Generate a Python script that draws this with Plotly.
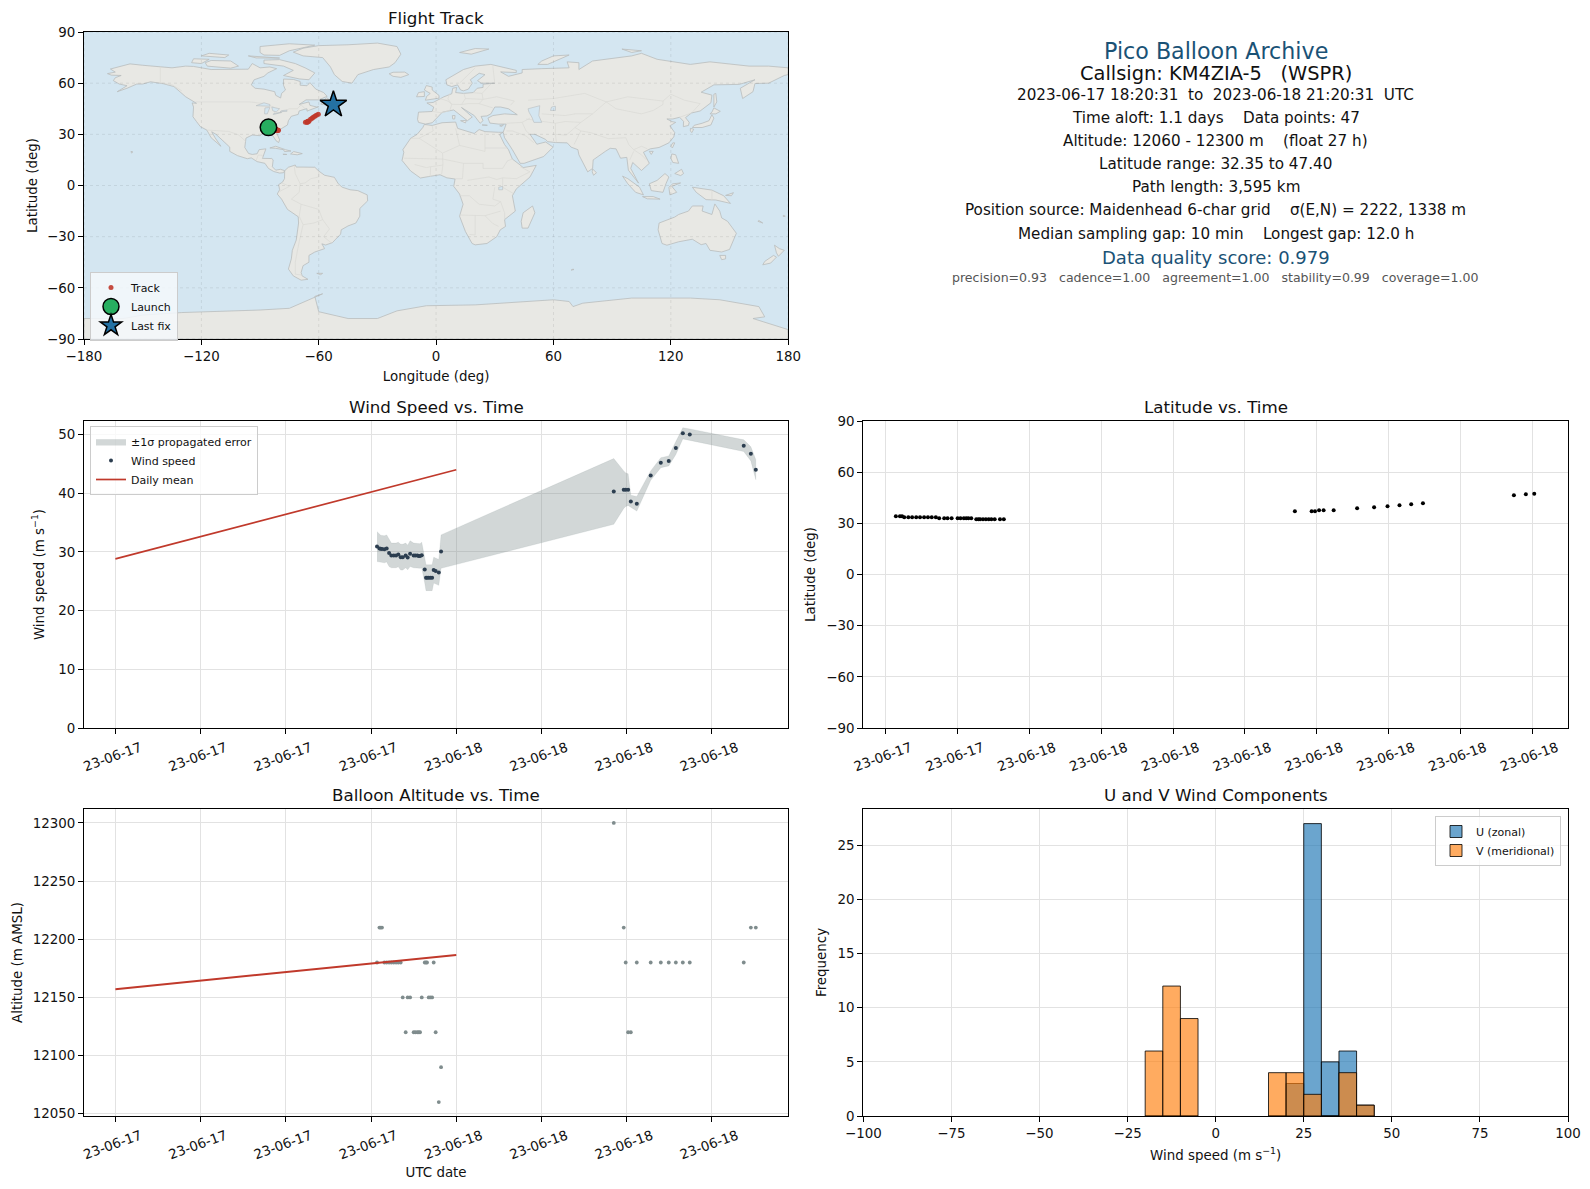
import pandas as pd
import plotly.graph_objects as go

# ---------- observations (hours after 2023-06-17 00:00 UTC) ----------
time_hours = [18.42,18.59,18.68,18.77,18.94,19.10,19.27,19.43,19.60,19.76,19.92,20.09,20.23,20.44,20.58,20.75,
              21.00,21.12,21.26,21.36,21.45,21.57,21.78,21.87,21.94,22.06,22.18,22.30,22.41,22.55,22.77,22.93,
              35.09,35.79,35.93,36.10,36.29,36.71,37.69,38.40,38.96,39.46,39.95,40.44,44.24,44.74,45.09]
wind_speed = [30.9,30.6,30.55,30.5,30.45,30.6,29.8,29.4,29.4,29.4,29.55,29.1,29.1,29.4,29.05,29.7,
              29.4,29.4,29.4,29.3,29.3,29.45,27.0,25.6,25.6,25.6,25.6,25.6,26.9,26.75,26.5,30.05,
              40.3,40.6,40.6,40.6,38.6,38.2,43.0,45.2,45.5,47.7,50.2,50.0,48.1,46.7,44.0]
wind_err = [2.55,2.4,2.3,2.3,2.3,2.3,2.3,2.1,2.1,2.1,2.1,2.2,2.2,2.1,2.1,2.2,
            2.1,2.1,2.1,2.1,2.1,2.2,2.3,2.2,2.2,2.2,2.2,2.2,2.2,2.2,2.2,2.85,
            5.6,3.2,2.85,2.7,1.05,1.25,0.8,0.85,0.85,1.1,0.95,0.95,1.0,1.2,1.7]
altitude = [12180,12210,12210,12210,12180,12180,12180,12180,12180,12180,12180,12180,12150,12120,12150,12150,
            12120,12120,12120,12120,12120,12150,12180,12180,12180,12150,12150,12150,12180,12120,12060,12090,
            12300,12210,12180,12120,12120,12180,12180,12180,12180,12180,12180,12180,12180,12210,12210]
latitude = [34.1,34.1,34.1,33.6,33.6,33.6,33.6,33.6,33.6,33.6,33.6,33.6,33.0,33.0,33.0,33.0,
            33.0,33.0,33.0,33.0,33.0,33.0,32.4,32.4,32.4,32.4,32.4,32.4,32.4,32.4,32.4,32.35,
            37.1,37.1,37.1,37.6,37.6,37.6,38.8,39.4,40.0,40.6,41.2,41.8,46.5,47.1,47.4]
longitude = [-85.7,-85.5,-85.3,-85.1,-84.9,-84.7,-84.5,-84.3,-84.1,-83.9,-83.7,-83.5,-83.3,-83.1,-82.9,-82.7,
             -82.5,-82.3,-82.2,-82.1,-82.0,-81.9,-81.7,-81.6,-81.5,-81.4,-81.3,-81.2,-81.1,-81.0,-80.8,-80.6,
             -66.8,-66.0,-65.8,-65.6,-65.4,-65.0,-64.2,-63.4,-62.8,-62.0,-61.2,-60.2,-53.6,-53.0,-52.5]
daily_hours = [0, 24]
daily_wind = [28.8, 44.0]
daily_alt = [12157, 12186.5]

# ---------- histogram ----------
bin_centers = [-17.5,-12.5,-7.5,17.5,22.5,27.5,32.5,37.5,42.5]
u_counts = [0,0,0,0,3,27,5,6,1]
v_counts = [6,12,9,4,4,2,0,4,1]
bin_width = 5

# ---------- text panel ----------
info_lines = [
    ("Pico Balloon Archive", 22.2, "#1a5276", 50.5),
    ("Callsign: KM4ZIA-5   (WSPR)", 19.4, "#111111", 73),
    ("2023-06-17 18:20:31  to  2023-06-18 21:20:31  UTC", 15.2, "#111111", 95),
    ("Time aloft: 1.1 days    Data points: 47", 15.2, "#111111", 117.8),
    ("Altitude: 12060 - 12300 m    (float 27 h)", 15.2, "#111111", 141),
    ("Latitude range: 32.35 to 47.40", 15.2, "#111111", 163.5),
    ("Path length: 3,595 km", 15.2, "#111111", 187),
    ("Position source: Maidenhead 6-char grid    σ(E,N) = 2222, 1338 m", 15.2, "#111111", 210),
    ("Median sampling gap: 10 min    Longest gap: 12.0 h", 15.2, "#111111", 233.6),
    ("Data quality score: 0.979", 18, "#1a5276", 257.5),
    ("precision=0.93   cadence=1.00   agreement=1.00   stability=0.99   coverage=1.00", 12.55, "#555555", 278),
]

# ---------- base map outlines (lon, lat) ----------
land = [
 [(-168,65.6),(-164,66.5),(-166.5,68.3),(-163,69.5),(-156.5,71.3),(-150,70.5),(-141,69.7),(-135,69),(-128,70),(-124,69.8),(-115,68),(-108,68),(-101,67.8),(-96,68.2),(-94,71.5),(-90,69),(-85,69.5),(-81.5,68.5),(-86,66),(-88,64),(-93,62),(-94.5,59),(-92.5,57),(-88,56.5),(-82.5,55),(-82,52.9),(-79.5,51.3),(-79,54),(-77,56),(-78,58.8),(-78,62.4),(-73,62.2),(-69.5,61),(-69.5,58.8),(-66,58.5),(-64.5,60.3),(-61.5,56.5),(-57.5,54.5),(-55.7,52.3),(-60,50.2),(-66.5,50.2),(-70,47.5),(-65,49),(-64.5,47),(-61,46),(-60,46.2),(-64,44.5),(-66,43.6),(-66,45),(-67,44.8),(-70,43.7),(-70.5,41.7),(-74,40.6),(-75.5,38),(-76,35.5),(-78,33.9),(-81,32),(-81.4,30.5),(-80,26.8),(-80.5,25.2),(-81.8,26.2),(-82.8,28),(-84,30),(-86,30.4),(-89,30.2),(-90,29.2),(-94,29.6),(-97.2,27.8),(-97.5,24),(-97.8,22.3),(-95.9,18.8),(-94,18.2),(-91.5,18.6),(-90.5,21),(-87,21.5),(-87.8,18.3),(-88.8,15.9),(-84,15.8),(-83.3,15),(-83.7,11),(-82,9),(-79.5,9.5),(-77.4,8.7),(-78,7.5),(-80,7.3),(-83,8.2),(-85.7,10),(-87.5,13),(-91.5,14),(-94.5,16.2),(-96.5,15.7),(-101.5,17.5),(-105.5,20),(-105.5,22.5),(-109,26),(-112.5,30),(-114.7,31.5),(-113,28),(-110,23),(-112,24.8),(-115,28),(-117.2,32.5),(-120.5,34.5),(-122.5,37.5),(-124.3,40.3),(-124,46),(-124.7,48.4),(-122.5,48.2),(-125,50),(-128,52),(-130.5,54.5),(-134,58),(-139.5,59.7),(-146,60.8),(-150,59.5),(-153,59.5),(-158,57),(-163,55),(-158,58.5),(-162,59.5),(-165,61.5),(-164,63.2),(-161,64.5),(-166,64.7)],
 [(-73,78.2),(-68,80.5),(-60,82),(-45,82.5),(-30,83.5),(-20,81.5),(-18,77),(-21,72),(-24,69.5),(-32,68),(-40,65),(-43,60),(-48,61),(-52,65),(-54,69.5),(-58,75),(-68,76)],
 [(-62,66),(-65,62),(-70,62.5),(-78,64.5),(-73,67.5),(-78,70),(-88,71.5),(-88,73.5),(-80,73.8),(-72,71.5),(-67,69)],
 [(-117,70),(-105,68.8),(-101,70),(-105,73),(-115,73.3),(-118,72)],
 [(-88,76.5),(-80,76.3),(-75,79),(-62,82.3),(-75,83.1),(-90,81.5),(-90,78)],
 [(-125,72),(-120,71.5),(-116,74),(-124,74.3)],
 [(-96,76),(-80,75),(-80,74.7),(-92,74.8)],
 [(-120,76),(-108,75),(-106,76.5),(-116,77.5)],
 [(-59,47.7),(-53,46.7),(-53,49),(-56,51.5),(-58,49)],
 [(-85,22),(-82,23),(-77,21),(-74.2,20.2),(-77.5,19.9),(-78,21),(-82,21.8)],
 [(-74.4,18.5),(-72.8,19.9),(-68.4,18.7),(-71,18)],
 [(-78.3,18.3),(-76.3,18.2),(-77,17.8)],
 [(-156,20),(-155,19.7),(-155.7,19)],
 [(-77.4,8.7),(-75.5,10.7),(-72,12),(-71.5,10.8),(-68,10.8),(-62,10.7),(-60,8.5),(-57,6),(-52,4.8),(-50,1),(-48,-1),(-44,-2.5),(-40,-3),(-35.2,-5.5),(-35,-9),(-39,-13.5),(-39,-18),(-41,-22),(-45,-23.7),(-48.5,-26),(-48.8,-28.5),(-53,-33.5),(-56.5,-34.9),(-58.4,-34.2),(-57,-37),(-62,-39),(-65,-41),(-65,-45),(-68,-47),(-69,-51),(-68.5,-53),(-65.5,-55),(-69,-55.5),(-73,-53),(-75.5,-49),(-74,-43),(-73.5,-38),(-71.5,-32),(-70.3,-22),(-70.5,-18.3),(-76,-14),(-79,-8),(-81.2,-5),(-80,-2.5),(-80.5,0.5),(-78.5,2),(-77.5,4),(-77.5,7)],
 [(-61,-51.5),(-58,-51.5),(-59,-52.3)],
 [(-6,35.8),(-2,35.2),(3,36.8),(10,37.2),(11,33.5),(15,32.3),(19.5,30.5),(22,32.8),(25,31.6),(32,31.2),(34.2,31.2),(32.5,29.9),(35,24),(37,21),(39,15.5),(43,12),(44.5,10.5),(51.2,11.8),(48,5),(41,-2),(39,-6),(40.5,-15),(35,-20),(35.5,-24),(32.8,-26),(31,-30),(26,-34),(20,-34.8),(18.4,-34),(15,-27),(12,-18),(13.8,-11),(12,-5),(9,-0.5),(9.7,3.8),(5.5,4.5),(2,6.3),(-4,5.2),(-8,4.4),(-13,8.5),(-17.4,14.7),(-16.5,19.5),(-17,21),(-13,27.7),(-9.7,30),(-6.8,34)],
 [(49.3,-12),(50.5,-16),(47,-25),(44,-25),(43.5,-21),(44.5,-16)],
 [(-9,37),(-9.5,38.8),(-9,43),(-2,43.4),(-1.2,46),(-4.7,48.4),(-1.5,48.7),(1.5,50.5),(4,52),(8,53.8),(8.5,57),(10.5,57.5),(10,54.5),(14,54),(19,54.5),(21,57),(24,57.5),(24,59.4),(30,60),(23,60),(21.2,61.5),(25,65),(22,65.8),(17.5,62),(18.5,60),(16.5,56.5),(14,55.5),(12.5,56),(11,59),(8,58),(5.5,59),(5,62),(14,68),(20,70),(28,71),(41,67.5),(41,66.2),(33,66.6),(37,64),(44,66),(44,68),(54,68.5),(68,69),(67,72.5),(73,72),(73,68),(80,73),(100,76),(105,77.5),(113,74),(130,71),(140,72.5),(160,70),(170,70),(180,69),(180,65),(178,64.5),(170,60),(163,59.8),(162,55),(156.7,51),(155.5,57),(163,62),(155,59.3),(142,59),(135.5,54.7),(141,53),(140.5,48.5),(135,43.7),(130.5,42.5),(127.5,39.8),(129.4,37),(129,35.2),(126.4,34.5),(126.5,37.6),(124.5,40),(121,39),(118,39),(120.5,37.5),(122.5,37),(119.5,35),(122,31),(121.5,28.5),(119,25),(114,22.3),(109.5,21.5),(106,19.5),(109,13),(105,8.8),(100.5,13.5),(99.5,10),(103.5,1.4),(100.5,6),(98.3,9),(97.5,16.5),(94.3,16),(92,21.5),(89,21.8),(86.5,20),(80.3,15),(80,10),(77.5,8),(73,18),(72.5,21),(69,22.5),(67,25),(61,25.2),(57,25.7),(56,27),(50.5,30),(48,30),(50,26.5),(51.5,24.2),(56,25.5),(59.8,22.5),(55,17),(45,13),(43,13),(39,21),(35,28),(34.3,31.2),(35.8,36),(32,36),(27.5,36.6),(26.5,39.5),(29,41),(35,42),(41.5,41.5),(37,45),(33,46),(30,46),(28,42),(26,40.8),(23,40.5),(24,38),(22.5,36.5),(19.5,41),(13,45.7),(18.5,40.2),(16,38),(11,42.5),(9,44.3),(3.2,43),(0,39.5),(-2,36.8),(-5.5,36)],
 [(-180,-84.5),(-180,-78),(-160,-78),(-150,-76),(-130,-74.5),(-100,-73.5),(-90,-73),(-75,-72),(-67,-68),(-58,-63.5),(-62,-65),(-60,-74),(-45,-78),(-30,-78),(-20,-73.5),(-5,-70.5),(20,-70),(40,-68.5),(60,-67),(68,-68),(70,-71),(75,-69),(100,-66),(130,-66),(145,-67),(165,-71),(168,-77),(162,-78),(180,-84.5),(180,-90),(-180,-90)],
 [(-5.5,50),(1.5,51.2),(1.5,52.8),(-2,56),(-2,57.7),(-5,58.6),(-6,56),(-3,54),(-5,52),(-5,51.5)],
 [(-10,52),(-6,52.2),(-6,55),(-9,54.5)],
 [(-24,65.5),(-22,64),(-18,63.4),(-14,65),(-16,66.5),(-22,66.4)],
 [(131,34),(136,34),(140.5,35.5),(142,39.5),(141,41.5),(139.5,38),(136,36.5),(132,35.3)],
 [(140,42),(143,42),(145.3,43.5),(142,45.5),(141,43)],
 [(130,33.5),(131.7,33),(130.7,31),(130,32)],
 [(142,46),(143.5,49),(143,54),(142,53.5),(142,49)],
 [(95.3,5.5),(98,4),(104,-1),(106,-5.5),(102,-4),(98,1)],
 [(105.5,-6.5),(111,-6.5),(114.5,-8),(108,-7.8)],
 [(109,1),(113,3),(117,7),(119,5),(117.5,1),(116,-4),(110,-3)],
 [(119.5,-5.5),(119,-1),(121,1),(125,1.5),(120.5,-0.5),(123,-4)],
 [(131,-1),(137,-2),(141,-2.7),(147,-6),(150.5,-10.5),(143,-8.5),(138,-8.3),(133,-4)],
 [(148,-5.8),(152,-4.2),(151,-6)],
 [(114,-22),(113.5,-26),(115.5,-34),(118,-35),(124,-33),(131,-31.5),(135.5,-34.7),(138,-34),(140,-38),(146,-39),(150,-37.5),(153.5,-28),(149,-21),(146,-19),(145,-15),(142.5,-10.8),(141,-17),(136,-15),(136.5,-12),(131,-12),(129,-15),(124,-17),(122,-18.5)],
 [(145,-41),(148,-41),(148,-43),(146,-43.5)],
 [(173,-35),(175.5,-37),(178,-38),(175,-41.5),(174,-39.5)],
 [(172.5,-41),(174,-42),(171,-45.5),(167,-46.5),(168,-44.5)],
 [(120.5,18.5),(122.5,18),(124,13),(121,13.5),(120,16)],
 [(122,7),(125.5,9.5),(126.5,7),(125,5.8)],
 [(121,25),(122,25),(120.8,22),(120,23)],
 [(80,9.7),(82,7.5),(80.5,6),(79.8,8)],
 [(109,20),(111,20),(110,18.2)],
 [(12,78),(20,80.3),(27,80),(18,77)],
 [(52,71),(57,71),(68,76.5),(60,76),(54,73)],
 [(12.5,38),(15.5,38.2),(15,36.7)],
 [(8.3,41),(9.7,41),(9.5,39),(8.5,39)],
 [(23.5,35.5),(26.2,35.3),(24.5,35)],
 [(32.5,35),(34.5,35.6),(33.5,34.6)],
 [(95,80),(105,79),(100,78)],
 [(70,-49),(70.5,-49.3),(69,-49.6)],
 [(165,-20.5),(167,-22),(164.5,-21)],
 [(177.5,-17.5),(178.5,-18),(177.5,-18.2)],
]
lakes = [
 [(-92,46.8),(-88,48.5),(-85,47.5),(-85,46.5),(-90,46.7)],
 [(-87.7,42),(-86.3,42),(-85,45.7),(-87.5,45.5)],
 [(-84,46),(-80,45),(-81.7,43.2),(-83.5,43.8)],
 [(-83.3,41.6),(-79,42.8),(-80,42.8),(-83,42.2)],
 [(-79.7,43.3),(-76.2,43.5),(-76.3,44.2),(-79,43.9)],
 [(47,45),(53,46.8),(52.5,41),(54,37),(50,37),(49,40),(47.5,43)],
 [(32,-1),(34,-0.5),(34,-2.5),(32,-2.5)],
 [(59,46),(61,46.5),(61,44),(58.5,44)],
]
borders = [
 [(-141,69.7),(-141,60.3),(-135,59),(-130,55.5)],
 [(-123,49),(-95,49),(-88,48),(-83,46),(-82.5,42),(-79,43),(-75,45),(-71,45),(-69,47.3),(-67,45)],
 [(-117,32.5),(-108,31.5),(-106,31.7),(-101,29.7),(-97.3,25.9)],
 [(-92,14.5),(-91,17.8),(-89,17.8),(-88.5,16)],
 [(-70,-18),(-69,-11),(-74,-8),(-70,-4),(-69.5,1),(-67,1.5),(-64,4),(-60,5),(-60,8)],
 [(-69.5,1),(-72,7),(-72.5,11.5)],
 [(-80,-3.5),(-75,-0.5),(-78.8,1.5)],
 [(-70,-18),(-68,-23),(-70,-33),(-72,-45),(-72,-52),(-68.5,-52.5)],
 [(-69,-11),(-60,-14),(-58,-20),(-54.5,-25.5),(-57.5,-30),(-53.5,-33.7)],
 [(-68,-23),(-62.5,-22),(-58,-20)],
 [(-2,35),(-1.5,32),(-8.7,27.7),(-13,27.7)],
 [(-8.7,27.7),(3.3,19),(12,23.5),(10,33.5)],
 [(12,23.5),(25,20),(25,31.6)],
 [(25,22),(36.5,22)],
 [(3.3,19),(3.5,12),(2.8,6.5)],
 [(-16.5,16),(-5,15.5),(3.5,15.5),(14,13),(24,13),(24,10),(34,10),(36.5,14.5),(39,15.5)],
 [(14,13),(13.5,4),(9.5,4)],
 [(-11,12.3),(-5,10.5),(-2.8,11),(3.5,12)],
 [(-3,5),(-2.8,11)],
 [(16,3),(27,5),(31,3.5),(34,4.5),(41,4),(48,8),(43,11)],
 [(34,4.5),(34,-1),(39.5,-4.7)],
 [(30,-1),(29,-8),(33,-9.5),(35,-16),(35,-20)],
 [(12,-6),(17,-6),(22,-11),(30,-12),(33,-9.5)],
 [(12,-17.3),(25,-17.7),(33,-15)],
 [(20,-17.5),(20,-29),(17,-28.7)],
 [(25,-17.7),(29,-22.3),(32,-24)],
 [(2,51),(6,49.5),(8,47.6),(7,44),(3,42.6),(-1.8,43.4)],
 [(7,54),(6,50.8),(8,47.6),(13,47.5),(15,51),(14.2,54)],
 [(15,51),(24,50.5),(23.5,54),(19,54.4)],
 [(24,50.5),(22,48),(16.5,48),(13,47.5)],
 [(22,48),(29,45.5)],
 [(24,50.5),(31,52),(40,49.5),(38,47)],
 [(23.5,54),(28,59.5)],
 [(30,60),(29,70)],
 [(12,60),(20,69)],
 [(36,36.5),(44,37),(48,39.5)],
 [(44,37),(46,32),(48,30)],
 [(36,32),(39,32),(46,29),(50,25)],
 [(46,39),(61,36.5),(66,37.5),(74,37),(80,42),(87,49)],
 [(47,50),(60,51),(76,54),(87,49),(98,52),(116,49.5),(120,53.5),(127,50),(135,48),(131,43)],
 [(87,49),(92,45),(105,42),(111,44),(116,47.5),(116,49.5)],
 [(54,42),(66,41),(71,42),(80,42)],
 [(61,36.5),(61,30),(61.5,25.3)],
 [(61,30),(66.5,29.5),(71,34),(74,37)],
 [(71,34),(74,32),(70.5,24)],
 [(74,32),(79,31),(88,27.5),(97,28)],
 [(97,28),(98.5,24),(101,21),(105,23),(108,21.5)],
 [(101,21),(105,18),(107.5,15)],
 [(99,15),(101,20)],
 [(124.5,40),(130.5,42.5)],
 [(141,-2.7),(141,-9)],
]

# ---------- helpers ----------
BASE = pd.Timestamp("2023-06-17 00:00:00")
def to_dt(hours):
    return [BASE + pd.Timedelta(hours=h) for h in hours]

def unroll(groups, close=False):
    xs, ys = [], []
    for g in groups:
        pts = list(g) + ([g[0]] if close else [])
        xs += [p[0] for p in pts] + [None]
        ys += [p[1] for p in pts] + [None]
    return xs, ys

W, H = 1590, 1189
LEFT = (84.0, 788.2)
RIGHT = (863.3, 1568.0)
ROW1 = (32.0, 339.0)
ROW2 = (421.0, 728.0)
ROW3 = (809.0, 1116.0)
def dom_x(a): return [a[0]/W, a[1]/W]
def dom_y(a): return [1-a[1]/H, 1-a[0]/H]

RED = "#c0392b"
GRID = "#e2e2e2"
FONT = "DejaVu Sans"

fig = go.Figure()

# ---- map ----
lx, ly = unroll(land, True)
fig.add_trace(go.Scatter(x=lx, y=ly, mode="lines", fill="toself", fillcolor="#e8e8e4",
                         line=dict(color="#b9bcbd", width=0.8), hoverinfo="skip", showlegend=False,
                         xaxis="x", yaxis="y"))
bx, by = unroll(borders)
fig.add_trace(go.Scatter(x=bx, y=by, mode="lines", line=dict(color="#dadad6", width=0.7),
                         hoverinfo="skip", showlegend=False, xaxis="x", yaxis="y"))
kx, ky = unroll(lakes, True)
fig.add_trace(go.Scatter(x=kx, y=ky, mode="lines", fill="toself", fillcolor="#d4e6f1",
                         line=dict(color="#b9bcbd", width=0.6), hoverinfo="skip", showlegend=False,
                         xaxis="x", yaxis="y"))
lon_ticks = [-180,-120,-60,0,60,120,180]
lat_ticks = [-90,-60,-30,0,30,60,90]
gx, gy = [], []
for v in lon_ticks:
    gx += [v, v, None]; gy += [-90, 90, None]
for v in lat_ticks:
    gx += [-180, 180, None]; gy += [v, v, None]
fig.add_trace(go.Scatter(x=gx, y=gy, mode="lines", line=dict(color="rgba(0,0,0,0.1)", width=0.8, dash="dot"),
                         hoverinfo="skip", showlegend=False, xaxis="x", yaxis="y"))
fig.add_trace(go.Scatter(x=longitude, y=latitude, mode="markers", name="Track",
                         marker=dict(color=RED, size=5, opacity=0.9), xaxis="x", yaxis="y", legend="legend"))
fig.add_trace(go.Scatter(x=longitude[:1], y=latitude[:1], mode="markers", name="Launch",
                         marker=dict(color="#27ae60", size=16.5, line=dict(color="black", width=1.5)),
                         xaxis="x", yaxis="y", legend="legend"))
fig.add_trace(go.Scatter(x=longitude[-1:], y=latitude[-1:], mode="markers", name="Last fix",
                         marker=dict(color="#2471a3", size=20, symbol="star", line=dict(color="black", width=1.5)),
                         xaxis="x", yaxis="y", legend="legend"))

# ---- wind ----
t_dt = to_dt(time_hours)
upper = [w+e for w, e in zip(wind_speed, wind_err)]
lower = [w-e for w, e in zip(wind_speed, wind_err)]
fig.add_trace(go.Scatter(x=t_dt+t_dt[::-1], y=upper+lower[::-1], mode="lines", fill="toself",
                         fillcolor="rgba(127,140,141,0.35)", line=dict(color="rgba(127,140,141,0.12)", width=1),
                         name="±1σ propagated error", hoverinfo="skip", xaxis="x2", yaxis="y2", legend="legend2"))
fig.add_trace(go.Scatter(x=t_dt, y=wind_speed, mode="markers", name="Wind speed",
                         marker=dict(color="#2c3e50", size=4), xaxis="x2", yaxis="y2", legend="legend2"))
fig.add_trace(go.Scatter(x=to_dt(daily_hours), y=daily_wind, mode="lines", name="Daily mean",
                         line=dict(color=RED, width=1.7), xaxis="x2", yaxis="y2", legend="legend2"))

# ---- latitude ----
fig.add_trace(go.Scatter(x=t_dt, y=latitude, mode="markers", marker=dict(color="black", size=4),
                         showlegend=False, xaxis="x3", yaxis="y3"))

# ---- altitude ----
fig.add_trace(go.Scatter(x=t_dt, y=altitude, mode="markers", marker=dict(color="#7f8c8d", size=3.8),
                         showlegend=False, xaxis="x4", yaxis="y4"))
fig.add_trace(go.Scatter(x=to_dt(daily_hours), y=daily_alt, mode="lines", line=dict(color=RED, width=2),
                         showlegend=False, xaxis="x4", yaxis="y4"))

# ---- histogram ----
fig.add_trace(go.Bar(x=bin_centers, y=u_counts, width=bin_width, name="U (zonal)",
                     marker=dict(color="rgba(31,119,180,0.66)", line=dict(color="rgba(0,0,0,0.8)", width=1)),
                     xaxis="x5", yaxis="y5", legend="legend3"))
fig.add_trace(go.Bar(x=bin_centers, y=v_counts, width=bin_width, name="V (meridional)",
                     marker=dict(color="rgba(255,127,14,0.66)", line=dict(color="rgba(0,0,0,0.8)", width=1)),
                     xaxis="x5", yaxis="y5", legend="legend3"))

def axis(domain, anchor, **kw):
    d = dict(domain=domain, anchor=anchor, automargin=False, showline=True, linecolor="black", linewidth=1.1, mirror=True,
             ticks="outside", ticklen=5, tickwidth=1, tickcolor="black", showgrid=True, gridcolor=GRID,
             gridwidth=1, zeroline=False, tickfont=dict(size=13.4, color="#111111", family=FONT),
             title_font=dict(size=13.4, color="#111111", family=FONT))
    d.update(kw)
    return d

date_range = [BASE + pd.Timedelta(hours=-2.21), BASE + pd.Timedelta(hours=47.37)]
lat_range = [BASE + pd.Timedelta(hours=17.06), BASE + pd.Timedelta(hours=46.5)]
def date_axis(domain, anchor, rng, dtick_h, tick0, **kw):
    return axis(domain, anchor, type="date", range=rng, dtick=dtick_h*3600000, tick0=tick0,
                tickformat="%y-%m-%d", tickangle=-20, ticklabelshift=25, ticklabelstandoff=1, **kw)

fig.update_layout(
    width=W, height=H, margin=dict(l=0, r=0, t=0, b=0), autosize=False,
    paper_bgcolor="white", plot_bgcolor="white", barmode="overlay",
    font=dict(family=FONT, color="#111111"),
    xaxis=axis(dom_x(LEFT), "y", range=[-180,180], tickvals=lon_ticks, showgrid=False,
               title=dict(text="Longitude (deg)", standoff=8)),
    yaxis=axis(dom_y(ROW1), "x", range=[-90,90], tickvals=lat_ticks, showgrid=False, title=dict(text="Latitude (deg)", standoff=6)),
    xaxis2=date_axis(dom_x(LEFT), "y2", date_range, 6, "2023-06-17 00:00:00"),
    yaxis2=axis(dom_y(ROW2), "x2", range=[0,52.3], tickvals=[0,10,20,30,40,50],
                title=dict(text="Wind speed (m s<sup>−1</sup>)", standoff=10)),
    xaxis3=date_axis(dom_x(RIGHT), "y3", lat_range, 3, "2023-06-17 00:00:00"),
    yaxis3=axis(dom_y(ROW2), "x3", range=[-90,90], tickvals=lat_ticks, title=dict(text="Latitude (deg)", standoff=7)),
    xaxis4=date_axis(dom_x(LEFT), "y4", date_range, 6, "2023-06-17 00:00:00",
                     title=dict(text="UTC date", standoff=6)),
    yaxis4=axis(dom_y(ROW3), "x4", range=[12048,12312], tickvals=[12050,12100,12150,12200,12250,12300],
                tickformat="d", title=dict(text="Altitude (m AMSL)", standoff=6)),
    xaxis5=axis(dom_x(RIGHT), "y5", range=[-100,100], tickvals=[-100,-75,-50,-25,0,25,50,75,100],
                title=dict(text="Wind speed (m s<sup>−1</sup>)", standoff=10)),
    yaxis5=axis(dom_y(ROW3), "x5", range=[0,28.35], tickvals=[0,5,10,15,20,25], title=dict(text="Frequency", standoff=7)),
    legend=dict(x=90/W, y=1-272/H, xanchor="left", yanchor="top", bgcolor="rgba(245,248,252,0.85)",
                bordercolor="#cccccc", borderwidth=1, font=dict(size=11, color="#111111", family=FONT),
                tracegroupgap=0, itemwidth=30),
    legend2=dict(x=90/W, y=1-426/H, xanchor="left", yanchor="top", bgcolor="rgba(255,255,255,0.8)",
                 bordercolor="#cccccc", borderwidth=1, font=dict(size=11, color="#111111", family=FONT), itemwidth=30),
    legend3=dict(x=1561/W, y=1-816/H, xanchor="right", yanchor="top", bgcolor="rgba(255,255,255,0.8)",
                 bordercolor="#cccccc", borderwidth=1, font=dict(size=11, color="#111111", family=FONT), itemwidth=30),
)

# ocean background for the map panel
fig.add_shape(type="rect", xref="x", yref="y", x0=-180, x1=180, y0=-90, y1=90,
              fillcolor="#d4e6f1", line_width=0, layer="below")

titles = [("Flight Track", LEFT, ROW1), ("Wind Speed vs. Time", LEFT, ROW2), ("Latitude vs. Time", RIGHT, ROW2),
          ("Balloon Altitude vs. Time", LEFT, ROW3), ("U and V Wind Components", RIGHT, ROW3)]
for text, cx, cy in titles:
    fig.add_annotation(text=text, xref="paper", yref="paper", x=sum(cx)/2/W, y=1-(cy[0]-3.5)/H,
                       xanchor="center", yanchor="bottom", showarrow=False,
                       font=dict(size=16.7, color="#111111", family=FONT), borderpad=0)
for text, size, color, ypx in info_lines:
    fig.add_annotation(text=text, xref="paper", yref="paper", x=1215.5/W, y=1-ypx/H,
                       xanchor="center", yanchor="middle", showarrow=False,
                       font=dict(size=size, color=color, family=FONT), borderpad=0)

fig.write_html("out.html", post_script="document.body.style.margin='0';", config=dict(displayModeBar=False))
